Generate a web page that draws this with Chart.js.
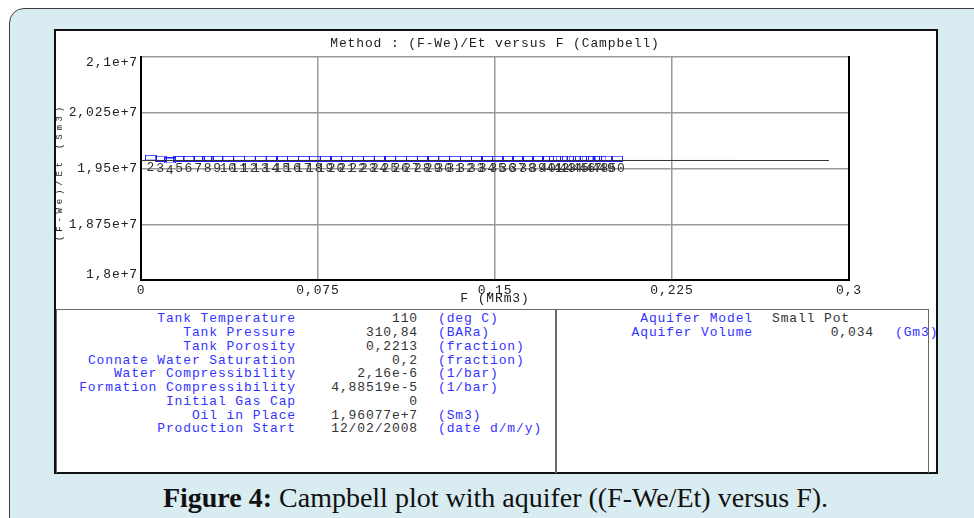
<!DOCTYPE html>
<html><head><meta charset="utf-8">
<script src="https://cdn.jsdelivr.net/npm/chart.js@4/dist/chart.umd.min.js"></script>
<style>
html,body{margin:0;padding:0;background:#fff;width:974px;height:518px;overflow:hidden;position:relative;font-family:"Liberation Mono",monospace;}
#frame{position:absolute;left:9px;top:8px;width:1000px;height:600px;background:#d9ecf2;border:1.5px solid #3c3c3c;border-radius:15px;box-sizing:border-box;}
#panel{position:absolute;left:54px;top:29px;width:884px;height:445px;background:#fff;border:2px solid #111;box-sizing:border-box;}
#tbl{position:absolute;left:56px;top:309px;width:873px;height:164px;border:1.5px solid #6a6a6a;border-bottom:none;box-sizing:border-box;}
#sep{position:absolute;left:555px;top:309px;width:1.5px;height:164px;background:#6a6a6a;}
canvas{position:absolute;left:0;top:0;}
.t{position:absolute;font-size:13px;letter-spacing:0.87px;line-height:14px;height:14px;white-space:pre;}
.lab{color:#3333ff;text-align:right;}
.val{color:#333;text-align:right;}
.unit{color:#3333ff;}
.plain{color:#333;}
#cap{position:absolute;left:0;width:991px;top:482px;text-align:center;font-family:"Liberation Serif",serif;font-size:28px;color:#111;white-space:nowrap;}
</style>
</head>
<body>
<div id="frame"></div>
<div id="panel"></div>
<div id="tbl"></div>
<div id="sep"></div>
<div id="rows"></div>
<div id="cap"><b>Figure 4:</b> Campbell plot with aquifer ((F-We/Et) versus F).</div>
<canvas id="c" width="974" height="518"></canvas>
<script>
// ---------- data ----------
const chartTitle = 'Method : (F-We)/Et versus F (Campbell)';
const xAxisTitle = 'F (MRm3)';
const yAxisTitle = '(F-We)/Et (Sm3)';
const xTicks = [0, 0.075, 0.15, 0.225, 0.3];
const xTickLabels = ['0', '0,075', '0,15', '0,225', '0,3'];
const yTicks = [18000000, 18750000, 19500000, 20250000, 21000000];
const yTickLabels = ['1,8e+7', '1,875e+7', '1,95e+7', '2,025e+7', '2,1e+7'];
const pointLabels = ['2','3','4','5','6','7','8','9','10','11',
  '12','13','14','15','16','17','18','19','20','21',
  '22','23','24','25','26','27','28','29','30','31',
  '32','33','34','35','36','37','38','39','40','41',
  '42','43','44','45','46','47','48','49','50'];
const fValues = [0.0042,0.0083,0.0123,0.0163,0.0203,0.0244,0.0284,0.0324,0.0370,0.0416,
  0.0461,0.0507,0.0553,0.0599,0.0644,0.0690,0.0736,0.0782,0.0828,0.0873,
  0.0919,0.0965,0.1011,0.1056,0.1102,0.1148,0.1194,0.1239,0.1285,0.1331,
  0.1377,0.1422,0.1468,0.1513,0.1555,0.1597,0.1640,0.1682,0.1725,0.1754,
  0.1782,0.1809,0.1837,0.1864,0.1892,0.1919,0.1947,0.1975,0.2017];
const campbellValues = [19645000,19633000,19608000,19630000,19631000,19632000,19632000,19632000,19631000,19632000,
  19633000,19632000,19632000,19632000,19632000,19631000,19632000,19632000,19632000,19632000,
  19632000,19632000,19633000,19632000,19632000,19632000,19632000,19632000,19632000,19632000,
  19632000,19632000,19631000,19632000,19632000,19632000,19632000,19632000,19632000,19633000,
  19634000,19633000,19634000,19634000,19633000,19634000,19633000,19634000,19633000];
const fitLineF = [0, 0.2915];
const fitLineValues = [19607700, 19607700];

const tableLabels = ['Tank Temperature','Tank Pressure','Tank Porosity','Connate Water Saturation','Water Compressibility','Formation Compressibility','Initial Gas Cap','Oil in Place','Production Start'];
const tableValues = ['110','310,84','0,2213','0,2','2,16e-6','4,88519e-5','0','1,96077e+7','12/02/2008'];
const tableUnits = ['(deg C)','(BARa)','(fraction)','(fraction)','(1/bar)','(1/bar)','','(Sm3)','(date d/m/y)'];
const aquiferLabels = ['Aquifer Model','Aquifer Volume'];
const aquiferValues = ['Small Pot','0,034'];
const aquiferUnits = ['','(Gm3)'];

// ---------- table (HTML text) ----------
const rows = document.getElementById('rows');
function addText(cls, left, width, top, txt){
  const d = document.createElement('div');
  d.className = 't ' + cls;
  d.style.left = left + 'px';
  if (width) d.style.width = width + 'px';
  d.style.top = top + 'px';
  d.textContent = txt;
  rows.appendChild(d);
}
tableLabels.forEach((l, i) => {
  const top = 312.3 + 13.75 * i;
  addText('lab', 0, 296, top, l);
  addText('val', 300, 118, top, tableValues[i]);
  if (tableUnits[i]) addText('unit', 438, 0, top, tableUnits[i]);
});
aquiferLabels.forEach((l, i) => {
  const top = 312.3 + 13.75 * i;
  addText('lab', 400, 353, top, l);
  if (i === 0) addText('plain', 772, 0, top, aquiferValues[i]);
  else addText('val', 760, 114, top, aquiferValues[i]);
  if (aquiferUnits[i]) addText('unit', 895, 0, top, aquiferUnits[i]);
});

// ---------- marker image ----------
const box = document.createElement('canvas');
box.width = 12; box.height = 6;
const bctx = box.getContext('2d');
bctx.strokeStyle = '#1a1aff';
bctx.lineWidth = 1;
bctx.strokeRect(0.5, 0.5, 11, 5);

const monoFont = '"Liberation Mono", monospace';

const decor = {
  id: 'decor',
  beforeDraw(chart){ chart.ctx.letterSpacing = '0.87px'; },
  afterDatasetsDraw(chart){
    const ctx = chart.ctx, xs = chart.scales.x, ys = chart.scales.y;
    ctx.save();
    ctx.font = '13px ' + monoFont;
    ctx.fillStyle = '#333';
    ctx.textAlign = 'center';
    ctx.textBaseline = 'middle';
    pointLabels.forEach((t, i) => {
      ctx.fillText(t, xs.getPixelForValue(fValues[i]), ys.getPixelForValue(campbellValues[i]) + 10);
    });
    ctx.restore();
  },
  afterDraw(chart){
    const ctx = chart.ctx, a = chart.chartArea, ys = chart.scales.y;
    ctx.save();
    ctx.strokeStyle = '#000';
    ctx.lineWidth = 2;
    ctx.beginPath();
    ctx.moveTo(a.right, a.top - 1);
    ctx.lineTo(a.right, a.bottom + 1);
    ctx.stroke();
    ctx.font = '13px ' + monoFont;
    ctx.fillStyle = '#222';
    // y tick labels (first/last kept inside the plot height)
    ctx.textAlign = 'right';
    yTicks.forEach((v, i) => {
      const py = ys.getPixelForValue(v);
      ctx.textBaseline = i === 0 ? 'bottom' : (i === yTicks.length - 1 ? 'top' : 'middle');
      ctx.fillText(yTickLabels[i], a.left - 3, i === 0 ? py + 1 : (i === yTicks.length - 1 ? py - 1 : py));
    });
    ctx.textAlign = 'center';
    ctx.textBaseline = 'middle';
    const cx = (a.left + a.right) / 2;
    ctx.fillText(chartTitle, cx, 44);
    ctx.fillText(xAxisTitle, cx, 299);
    ctx.translate(59.5, 172);
    ctx.rotate(-Math.PI / 2);
    ctx.font = '9px ' + monoFont;
    ctx.letterSpacing = '3.8px';
    ctx.fillText(yAxisTitle, 0, 0);
    ctx.restore();
    ctx.letterSpacing = '0px';
  }
};

new Chart(document.getElementById('c'), {
  data: {
    datasets: [
      {
        type: 'line',
        data: fitLineF.map((f, i) => ({x: f, y: fitLineValues[i]})),
        borderColor: '#333',
        borderWidth: 1,
        pointRadius: 0,
        fill: false
      },
      {
        type: 'scatter',
        data: fValues.map((f, i) => ({x: f, y: campbellValues[i]})),
        pointStyle: box,
        pointRadius: 6,
        borderColor: '#1a1aff',
        backgroundColor: 'rgba(0,0,0,0)'
      }
    ]
  },
  options: {
    responsive: false,
    animation: false,
    devicePixelRatio: 1,
    events: [],
    layout: {padding: {left: 0, top: 57, right: 125, bottom: 208}},
    plugins: {legend: {display: false}, tooltip: {enabled: false}, title: {display: false}},
    scales: {
      x: {
        type: 'linear', min: 0, max: 0.3,
        afterBuildTicks: s => { s.ticks = xTicks.map(v => ({value: v})); },
        afterFit: s => { s.height = 30; },
        ticks: {callback: (v, i) => xTickLabels[i], font: {family: monoFont, size: 13}, color: '#222', padding: 3, maxRotation: 0, autoSkip: false},
        grid: {color: '#9a9a9a', lineWidth: 1.5, drawTicks: false},
        border: {color: '#000', width: 2}
      },
      y: {
        type: 'linear', min: 18000000, max: 21000000,
        afterBuildTicks: s => { s.ticks = yTicks.map(v => ({value: v})); },
        afterFit: s => { s.width = 141; },
        ticks: {display: false},
        grid: {color: '#9a9a9a', lineWidth: 1.5, drawTicks: false},
        border: {color: '#000', width: 2}
      }
    }
  },
  plugins: [decor]
});
</script>
</body></html>
